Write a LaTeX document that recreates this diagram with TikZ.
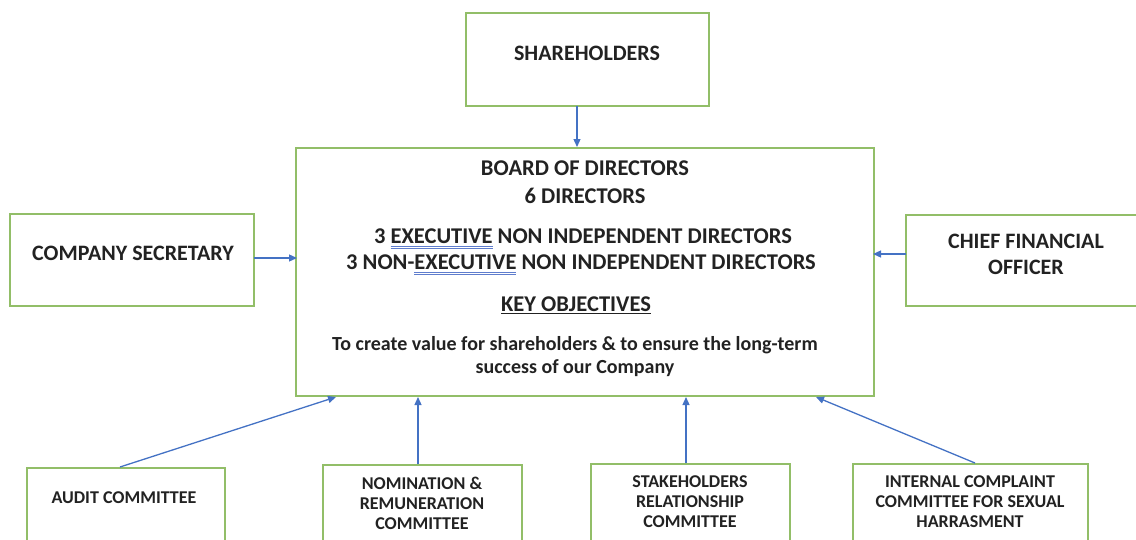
\documentclass[tikz,border=0pt]{standalone}
\usepackage{fontspec}
\setmainfont{Carlito}
\usetikzlibrary{arrows.meta,calc}
\definecolor{boxgreen}{RGB}{146,190,104}
\definecolor{arrowblue}{RGB}{68,114,196}
\definecolor{ulblue}{RGB}{95,125,205}
\definecolor{txt}{RGB}{34,34,34}
\newcommand\spellul[1]{\setbox0\hbox{#1}\rlap{\color{ulblue}\rule[-2.8pt]{\wd0}{0.8pt}}\rlap{\color{ulblue}\rule[-5pt]{\wd0}{0.8pt}}\box0\relax}
\begin{document}
\begin{tikzpicture}[x=1pt,y=-1pt,
  box/.style={draw=boxgreen,line width=1.6pt,fill=white,inner sep=0pt},
  conn/.style={draw=arrowblue,line width=1.3pt,-{Triangle[length=8pt,width=7pt]}},
  big/.style={font=\bfseries\fontsize{22}{26}\selectfont,align=center,text=txt,inner sep=0pt},
  mid/.style={font=\bfseries\fontsize{22.5}{26}\selectfont,align=center,text=txt,inner sep=0pt},
  obj/.style={font=\bfseries\fontsize{20}{23}\selectfont,align=center,text=txt,inner sep=0pt},
  small/.style={font=\bfseries\fontsize{18}{20}\selectfont,align=center,text=txt,inner sep=0pt}]
\useasboundingbox (0,0) rectangle (1136,539);
\clip (0,0) rectangle (1136,539);
% boxes
\node[box,minimum width=243pt,minimum height=93pt] (sh) at (587.5,59.5) {};
\node[box,minimum width=578pt,minimum height=248pt] (board) at (585,272) {};
\node[box,minimum width=244pt,minimum height=92pt] (cs) at (132,260) {};
\node[box,minimum width=234pt,minimum height=91pt] (cfo) at (1023,260.5) {};
\node[box,minimum width=198pt,minimum height=77pt] (audit) at (126,506.5) {};
\node[box,minimum width=199pt,minimum height=80pt] (nom) at (422.5,505) {};
\node[box,minimum width=199pt,minimum height=81pt] (stake) at (690.5,504.5) {};
\node[box,minimum width=235pt,minimum height=81pt] (icc) at (970.5,504.5) {};
% texts
\node[big] (tsh) at (587,53) {SHAREHOLDERS};
\node[big] (tcs) at (133,253) {COMPANY SECRETARY};
\node[big] (tcfo) at (1026,254) {CHIEF FINANCIAL\\OFFICER};
\node[mid] (tb1) at (585,168) {BOARD OF DIRECTORS};
\node[mid] (tb2) at (585,196) {6 DIRECTORS};
\node[mid] (tb3) at (583,239) {3 \spellul{EXECUTIVE} NON INDEPENDENT DIRECTORS};
\node[mid] (tb4) at (581,265) {3 NON-\spellul{EXECUTIVE} NON INDEPENDENT DIRECTORS};
\node[mid] (tb5) at (576,305) {\underline{KEY OBJECTIVES}};
\node[obj] (tb6) at (575,357) {To create value for shareholders \& to ensure the long-term\\success of our Company};
\node[small] (ta) at (124,498) {AUDIT COMMITTEE};
\node[small] (tn) at (422,503) {NOMINATION \&\\REMUNERATION\\COMMITTEE};
\node[small] (ts) at (690,502) {STAKEHOLDERS\\RELATIONSHIP\\COMMITTEE};
\node[small] (ti) at (970,502) {INTERNAL COMPLAINT\\COMMITTEE FOR SEXUAL\\HARRASMENT};
% connectors
\coordinate (bA) at (336,397);
\coordinate (bN) at (418,397);
\coordinate (bS) at (686,397);
\coordinate (bI) at (816,397);
\coordinate (aT) at (120,467);
\coordinate (nT) at (418,464);
\coordinate (sT) at (686,463);
\coordinate (iT) at (975,463);
\coordinate (shB) at (577,106);
\coordinate (bdT) at (577,147);
\coordinate (csR) at (254,258);
\coordinate (bdL) at (297,258);
\coordinate (cfoL) at (906,254);
\coordinate (bdR) at (873,254);
\draw[conn] (shB) -- (bdT);
\draw[conn] (csR) -- (bdL);
\draw[conn] (cfoL) -- (bdR);
\draw[conn] (aT) -- (bA);
\draw[conn] (nT) -- (bN);
\draw[conn] (sT) -- (bS);
\draw[conn] (iT) -- (bI);
\end{tikzpicture}
\end{document}
